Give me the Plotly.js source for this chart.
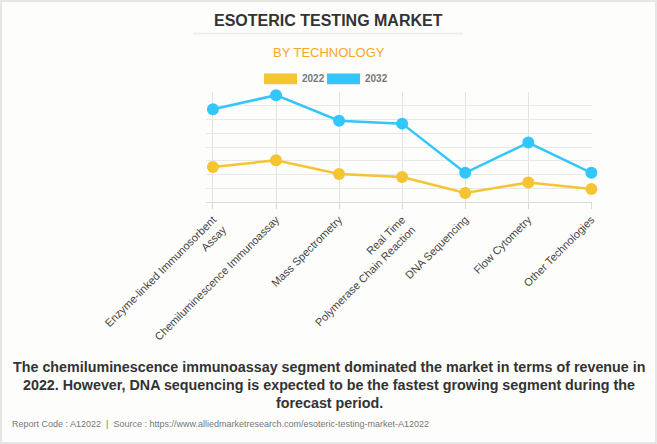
<!DOCTYPE html>
<html>
<head>
<meta charset="utf-8">
<script src="https://cdn.plot.ly/plotly-3.0.1.min.js"></script>
<style>
html,body{margin:0;padding:0;background:#fdfdfc;}
#wrap{position:relative;width:657px;height:444px;}
#chart{position:absolute;left:0;top:0;width:657px;height:444px;}
#frame{position:absolute;left:0;top:0;width:653px;height:440px;border:2px solid #e6e6e6;pointer-events:none;}
</style>
</head>
<body>
<div id="wrap"><div id="chart"></div><div id="frame"></div></div>
<script>
// ---- data ----
const categories = [
  "Enzyme-linked Immunosorbent<br>Assay",
  "Chemiluminescence Immunoassay",
  "Mass Spectrometry",
  "Real Time<br>Polymerase Chain Reaction",
  "DNA Sequencing",
  "Flow Cytometry",
  "Other Technologies"
];
const values2022 = [2.54, 3.04, 2.03, 1.81, 0.65, 1.42, 0.94];
const values2032 = [6.74, 7.77, 5.91, 5.70, 2.12, 4.32, 2.12];
const seriesNames = ["2022", "2032"];

// ---- layout helpers (pixel -> paper) ----
const W = 657, H = 444;
const PL = 206, PR = 592, PT = 91.7, PB = 202.3;
const px = x => (x - PL) / (PR - PL);
const py = y => (PB - y) / (PB - PT);

const c2022 = "#f5c431", c2032 = "#33c6fd";

const traces = [
  {x: categories, y: values2022, name: seriesNames[0], type: "scatter", mode: "lines+markers",
   cliponaxis: false,
   line: {color: c2022, width: 2.5}, marker: {color: c2022, size: 12}, showlegend: false},
  {x: categories, y: values2032, name: seriesNames[1], type: "scatter", mode: "lines+markers",
   cliponaxis: false,
   line: {color: c2032, width: 2.5}, marker: {color: c2032, size: 12}, showlegend: false}
];

const fontBase = "Liberation Sans, Arial, sans-serif";
const layout = {
  width: W, height: H,
  paper_bgcolor: "#fdfdfc", plot_bgcolor: "#fdfdfc",
  margin: {l: PL, r: W - PR, t: PT, b: H - PB, pad: 0},
  showlegend: false,
  xaxis: {
    type: "category", range: [-0.11, 6.01], automargin: false,
    showgrid: true, gridcolor: "#e4e4e4", gridwidth: 1,
    showline: true, linecolor: "#d9d9d9", linewidth: 1,
    ticks: "outside", ticklen: 6, tickcolor: "#d9d9d9",
    tickangle: -45, tickfont: {family: fontBase, size: 11, color: "#444"}
  },
  yaxis: {
    range: [0, 8], dtick: 1, showticklabels: false, automargin: false,
    showgrid: true, gridcolor: "#e8e8e8", zeroline: false, showline: false, ticks: ""
  },
  shapes: [
    {type: "line", xref: "paper", yref: "paper", x0: px(193), x1: px(463), y0: py(33), y1: py(33),
     line: {color: "#ececec", width: 1.5}},
    {type: "rect", xref: "paper", yref: "paper", x0: px(264), x1: px(297), y0: py(73), y1: py(84),
     fillcolor: c2022, line: {width: 0}},
    {type: "rect", xref: "paper", yref: "paper", x0: px(327), x1: px(360), y0: py(73), y1: py(84),
     fillcolor: c2032, line: {width: 0}}
  ],
  annotations: [
    {text: "<b>ESOTERIC TESTING MARKET</b>",
     xref: "paper", yref: "paper", x: px(328.5), y: py(20), xanchor: "center", yanchor: "middle",
     showarrow: false, font: {family: fontBase, size: 16, color: "#333"}},
    {text: "BY TECHNOLOGY", xref: "paper", yref: "paper", x: px(328.5), y: py(52),
     xanchor: "center", yanchor: "middle", showarrow: false,
     font: {family: fontBase, size: 13, color: "#f7a628"}},
    {text: "<b>" + seriesNames[0] + "</b>", xref: "paper", yref: "paper", x: px(300), y: py(78.5),
     xanchor: "left", yanchor: "middle", showarrow: false, font: {family: fontBase, size: 10, color: "#777"}},
    {text: "<b>" + seriesNames[1] + "</b>", xref: "paper", yref: "paper", x: px(363), y: py(78.5),
     xanchor: "left", yanchor: "middle", showarrow: false, font: {family: fontBase, size: 10, color: "#777"}},
    {text: "<b>The chemiluminescence immunoassay segment dominated the market in terms of revenue in</b>",
     xref: "paper", yref: "paper", x: px(329), y: py(368), xanchor: "center", yanchor: "middle",
     showarrow: false, font: {family: fontBase, size: 14.3, color: "#333"}},
    {text: "<b>2022. However, DNA sequencing is expected to be the fastest growing segment during the</b>",
     xref: "paper", yref: "paper", x: px(329), y: py(386), xanchor: "center", yanchor: "middle",
     showarrow: false, font: {family: fontBase, size: 14.3, color: "#333"}},
    {text: "<b>forecast period.</b>",
     xref: "paper", yref: "paper", x: px(329), y: py(404), xanchor: "center", yanchor: "middle",
     showarrow: false, font: {family: fontBase, size: 14.3, color: "#333"}},
    {text: "Report Code : A12022  |  Source : https://www.alliedmarketresearch.com/esoteric-testing-market-A12022",
     xref: "paper", yref: "paper", x: px(10), y: py(426), xanchor: "left", yanchor: "middle",
     showarrow: false, font: {family: fontBase, size: 9, color: "#777"}}
  ]
};

Plotly.newPlot("chart", traces, layout, {displayModeBar: false, staticPlot: true});
</script>
</body>
</html>
